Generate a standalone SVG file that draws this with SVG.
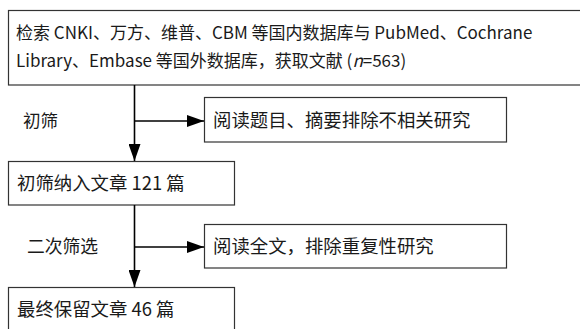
<svg xmlns="http://www.w3.org/2000/svg" width="580" height="329" viewBox="0 0 580 329">
<defs>
<marker id="ah" markerUnits="userSpaceOnUse" markerWidth="18" markerHeight="12" refX="17" refY="6" orient="auto">
<path d="M0,0 L17,6 L0,12 Z" fill="#000"/>
</marker>
<style>
.box{fill:#fff;stroke:#333;stroke-width:1.2}
.t{font-family:"Noto Sans CJK SC","Liberation Sans",sans-serif;font-size:17px;fill:#1a1a1a}
.m{font-size:18.4px}
.c{fill:none;stroke:#000;stroke-width:1.6}
</style>
</defs>
<rect width="580" height="329" fill="#fff"/>
<g id="search">
<rect class="box" x="8.5" y="10.5" width="576" height="74.5"/>
<text class="t" x="16" y="39">检索 CNKI、万方、维普、CBM 等国内数据库与 PubMed、Cochrane</text>
<text class="t" x="16" y="67">Library、Embase 等国外数据库，获取文献 (<tspan font-style="italic">n</tspan>=563)</text>
</g>
<g id="exclude1">
<rect class="box" x="204.5" y="97.5" width="302" height="44.5"/>
<text class="t m" x="213" y="127">阅读题目、摘要排除不相关研究</text>
</g>
<g id="included1">
<rect class="box" x="8.5" y="161.5" width="226" height="43.5"/>
<text class="t m" x="17" y="190">初筛纳入文章 121 篇</text>
</g>
<g id="exclude2">
<rect class="box" x="204.5" y="224.5" width="302" height="43.5"/>
<text class="t m" x="213" y="253">阅读全文，排除重复性研究</text>
</g>
<g id="final">
<rect class="box" x="8.5" y="287.5" width="226" height="50"/>
<text class="t m" x="17" y="316">最终保留文章 46 篇</text>
</g>
<g id="labels">
<text class="t" x="23" y="127" style="font-size:17.5px">初筛</text>
<text class="t" x="27" y="253" style="font-size:17.8px">二次筛选</text>
</g>
<g id="connectors">
<line class="c" x1="134.5" y1="85" x2="134.5" y2="161" marker-end="url(#ah)"/>
<line class="c" x1="134.5" y1="121" x2="204" y2="121" marker-end="url(#ah)"/>
<line class="c" x1="134.5" y1="205" x2="134.5" y2="287" marker-end="url(#ah)"/>
<line class="c" x1="134.5" y1="247" x2="204" y2="247" marker-end="url(#ah)"/>
</g>
</svg>
